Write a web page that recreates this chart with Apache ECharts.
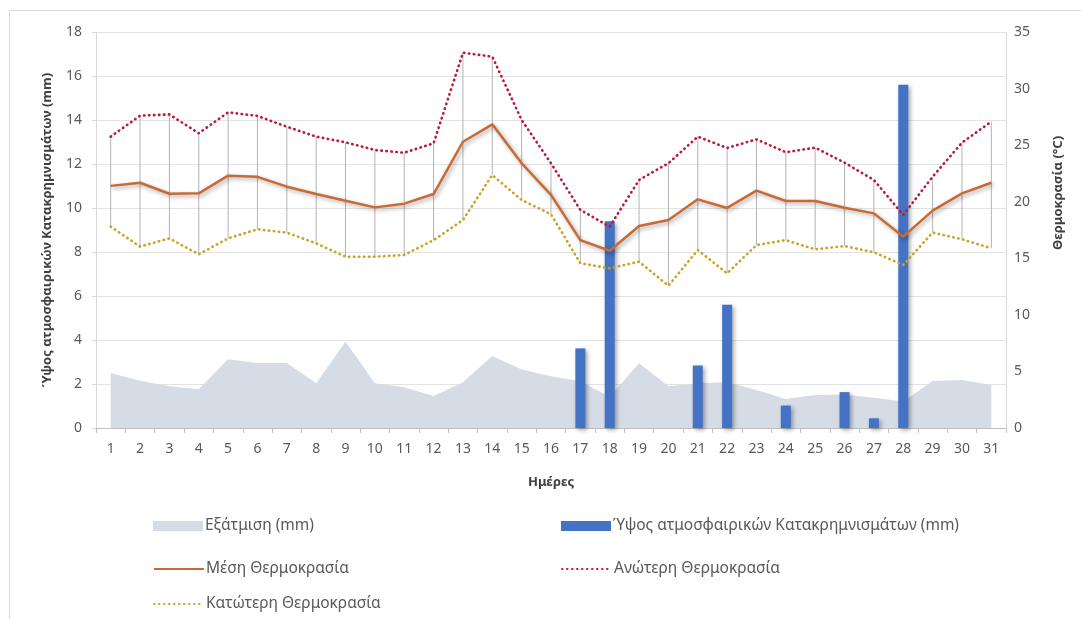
<!DOCTYPE html>
<html>
<head>
<meta charset="utf-8">
<script src="https://cdn.jsdelivr.net/npm/echarts@6/dist/echarts.min.js"></script>
<style>
html,body{margin:0;padding:0;background:#fff;}
#chart{width:1081px;height:619px;}
</style>
</head>
<body>
<div id="chart"></div>
<script>
// ---- data ----
const days = ['1','2','3','4','5','6','7','8','9','10','11','12','13','14','15','16','17','18','19','20','21','22','23','24','25','26','27','28','29','30','31'];
const evaporation = [2.5,2.15,1.9,1.76,3.13,2.95,2.95,2.03,3.92,2.03,1.85,1.45,2.08,3.27,2.66,2.35,2.12,1.42,2.94,1.9,2.03,2.08,1.73,1.32,1.5,1.52,1.38,1.2,2.14,2.18,1.95];
const precipitation = [0,0,0,0,0,0,0,0,0,0,0,0,0,0,0,0,3.62,9.4,0,0,2.84,5.6,0,1.02,0,1.63,0.44,15.6,0,0,0];
const meanTemp = [21.4,21.68,20.7,20.74,22.3,22.2,21.33,20.68,20.09,19.5,19.83,20.68,25.3,26.84,23.4,20.6,16.6,15.67,17.85,18.38,20.21,19.45,20.98,20.06,20.06,19.47,18.97,16.91,19.21,20.74,21.68];
const maxTemp = [25.75,27.6,27.72,26.05,27.9,27.58,26.63,25.75,25.25,24.57,24.33,25.16,33.17,32.82,27.22,23.4,19.27,17.8,21.92,23.4,25.75,24.75,25.51,24.37,24.78,23.45,21.92,18.83,22.21,25.22,27.08];
const minTemp = [17.8,16.03,16.76,15.35,16.76,17.56,17.27,16.32,15.14,15.14,15.29,16.6,18.38,22.36,20.15,18.89,14.56,14.11,14.7,12.58,15.73,13.67,16.17,16.6,15.79,16.08,15.53,14.41,17.27,16.68,15.88];
const names = {
  evap: 'Εξάτμιση (mm)',
  prec: 'Ύψος ατμοσφαιρικών Κατακρημνισμάτων (mm)',
  mean: 'Μέση Θερμοκρασία',
  max: 'Ανώτερη Θερμοκρασία',
  min: 'Κατώτερη Θερμοκρασία'
};
const leftAxisName = 'Ύψος ατμοσφαιρικών Κατακρημνισμάτων (mm)';
const rightAxisName = 'Θερμοκρασία (°C)';
const xAxisName = 'Ημέρες';

const hiLo = days.map((d, i) => [i, maxTemp[i], minTemp[i]]);

const FONT = 'Noto Sans';
const txt = '#595959';
const shadow = {shadowColor:'rgba(0,0,0,0.35)', shadowBlur:4, shadowOffsetX:2, shadowOffsetY:2};

function legendAt(name, left, top, extra) {
  return Object.assign({
    data: [name], left: left, top: top, itemWidth: 50, itemHeight: 10, itemGap: 0,
    textStyle: {color: txt, fontFamily: FONT, fontSize: 15.5, padding: [0,0,0,-3]}, selectedMode: false,
    itemStyle: {opacity: 0}
  }, extra || {});
}

const chart = echarts.init(document.getElementById('chart'));
chart.setOption({
  animation: false,
  backgroundColor: '#fff',
  graphic: [{type:'rect', shape:{x:9.5, y:10.5, width:1080, height:620}, style:{fill:'none', stroke:'#d9d9d9', lineWidth:1}, silent:true, z:-10}],
  grid: {left: 96, right: 75, top: 32, bottom: 191},
  legend: [
    legendAt(names.evap, 148, 513, {data:[{name:names.evap, icon:'rect'}], itemStyle: {}}),
    legendAt(names.prec, 556, 513, {data:[{name:names.prec, icon:'rect'}], itemStyle: {}}),
    legendAt(names.mean, 148, 556),
    legendAt(names.max, 556, 556),
    legendAt(names.min, 148, 591)
  ],
  xAxis: {
    type: 'category', data: days, boundaryGap: true,
    name: xAxisName, nameLocation: 'middle', nameGap: 48,
    nameTextStyle: {fontFamily: FONT, fontSize: 13, fontWeight: 'bold', color: '#404040'},
    axisLine: {lineStyle: {color: '#bfbfbf'}},
    axisTick: {show: true, length: 5, lineStyle: {color: '#bfbfbf'}},
    axisLabel: {color: txt, fontFamily: FONT, fontSize: 14, margin: 14}
  },
  yAxis: [{
    type: 'value', min: 0, max: 18, interval: 2, position: 'left',
    name: leftAxisName, nameLocation: 'middle', nameGap: 42, nameRotate: 90,
    nameTextStyle: {fontFamily: FONT, fontSize: 13, fontWeight: 'bold', color: '#404040'},
    axisLine: {show: true, lineStyle: {color: '#d9d9d9'}},
    axisTick: {show: true, length: 4, lineStyle: {color: '#d9d9d9'}},
    axisLabel: {color: txt, fontFamily: FONT, fontSize: 14, margin: 14},
    splitLine: {lineStyle: {color: '#e3e3e3'}}
  }, {
    type: 'value', min: 0, max: 35, interval: 5, position: 'right',
    name: rightAxisName, nameLocation: 'middle', nameGap: 46, nameRotate: 90,
    nameTextStyle: {fontFamily: FONT, fontSize: 13, fontWeight: 'bold', color: '#404040', padding: [0,0,0,74]},
    axisLine: {show: true, lineStyle: {color: '#d9d9d9'}},
    axisTick: {show: false},
    axisLabel: {color: txt, fontFamily: FONT, fontSize: 14, margin: 8},
    splitLine: {show: false}
  }],
  series: [{
    name: names.evap, type: 'line', yAxisIndex: 0, data: evaporation,
    symbol: 'none', color: '#d5dce6',
    lineStyle: {width: 0}, areaStyle: {color: '#d5dce6', opacity: 1}, z: 1
  }, {
    name: 'hilo', type: 'custom', yAxisIndex: 1, data: hiLo, z: 2,
    renderItem: function (params, api) {
      const p1 = api.coord([api.value(0), api.value(1)]);
      const p2 = api.coord([api.value(0), api.value(2)]);
      return {type: 'line', shape: {x1: p1[0], y1: p1[1], x2: p2[0], y2: p2[1]},
        style: {stroke: '#b3b3b3', lineWidth: 1}};
    }
  }, {
    name: names.prec, type: 'bar', yAxisIndex: 0, data: precipitation,
    barWidth: 10, color: '#4472c4', itemStyle: Object.assign({color: '#4472c4'}, shadow), z: 3
  }, {
    name: names.mean, type: 'line', yAxisIndex: 1, data: meanTemp,
    symbol: 'none', color: '#c96a35',
    lineStyle: Object.assign({color: '#c96a35', width: 2.5}, shadow), z: 5
  }, {
    name: names.max, type: 'line', yAxisIndex: 1, data: maxTemp,
    symbol: 'none', color: '#b8193f',
    lineStyle: {color: '#b8193f', width: 2.6, type: [0.5, 4.5], cap: 'round'}, z: 5
  }, {
    name: names.min, type: 'line', yAxisIndex: 1, data: minTemp,
    symbol: 'none', color: '#c9a227',
    lineStyle: {color: '#c9a227', width: 2.6, type: [0.5, 4.5], cap: 'round'}, z: 5
  }]
});
</script>
</body>
</html>
